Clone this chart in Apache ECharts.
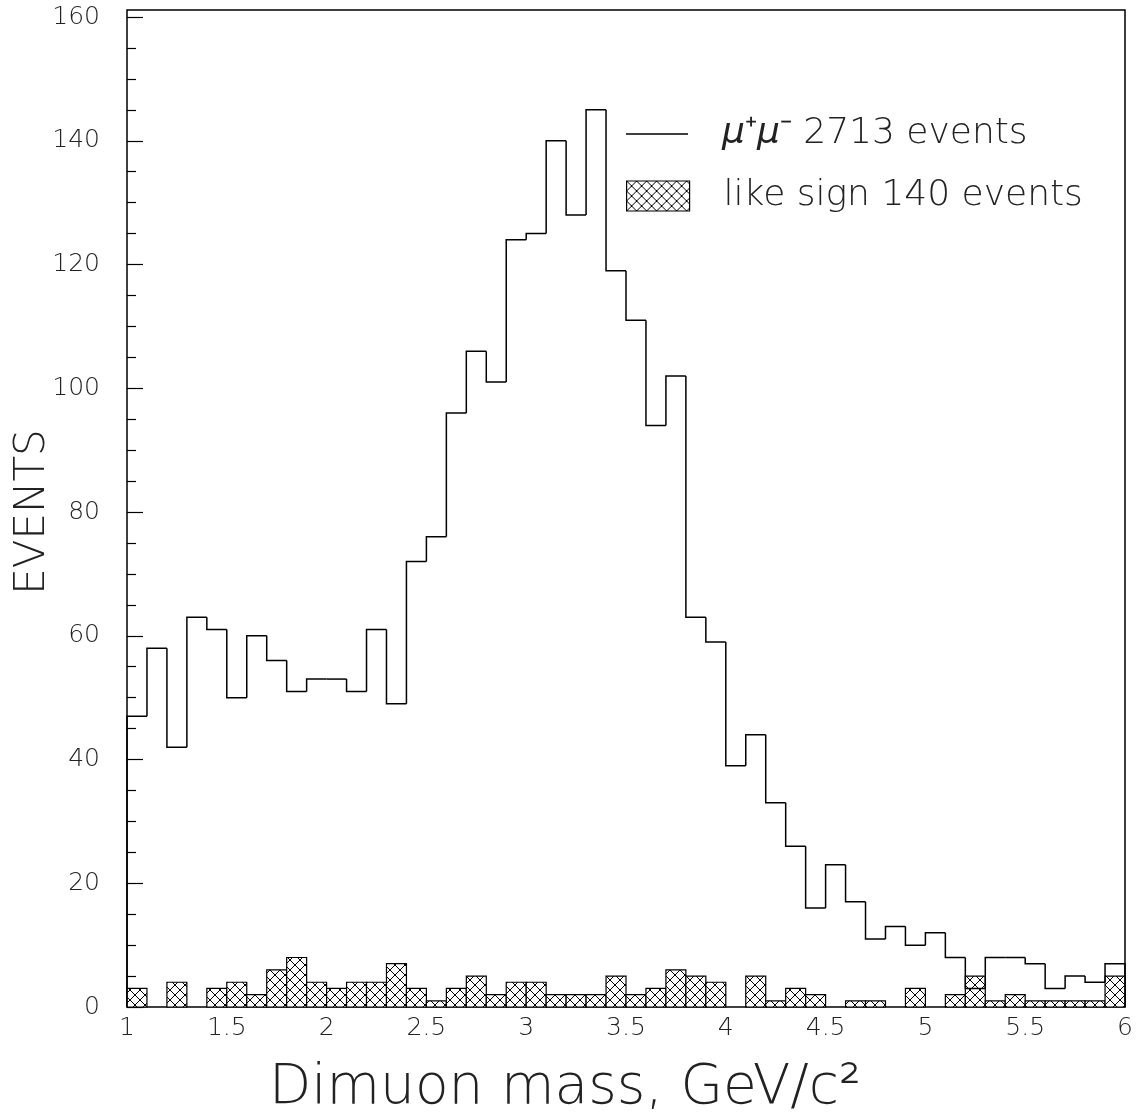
<!DOCTYPE html>
<html><head><meta charset="utf-8">
<script src="https://cdn.jsdelivr.net/npm/echarts@6/dist/echarts.min.js"></script>
<style>html,body{margin:0;padding:0;background:#fff}#c{width:1148px;height:1118px}</style>
</head><body><div id="c"></div>
<script>
// ---- data ----
const binStart = [1.0,1.1,1.2,1.3,1.4,1.5,1.6,1.7,1.8,1.9,
                  2.0,2.1,2.2,2.3,2.4,2.5,2.6,2.7,2.8,2.9,
                  3.0,3.1,3.2,3.3,3.4,3.5,3.6,3.7,3.8,3.9,
                  4.0,4.1,4.2,4.3,4.4,4.5,4.6,4.7,4.8,4.9,
                  5.0,5.1,5.2,5.3,5.4,5.5,5.6,5.7,5.8,5.9];
const binWidth = 0.1;
const muPlusMinus = [47,58,42,63,61,50,60,56,51,53,
                     53,51,61,49,72,76,96,106,101,124,
                     125,140,128,145,119,111,94,102,63,59,
                     39,44,33,26,16,23,17,11,13,10,
                     12,8,3,8,8,7,3,5,4,7];
const likeSign = [3,0,4,0,3,4,2,6,8,4,
                  3,4,4,7,3,1,3,5,2,4,
                  4,2,2,2,5,2,3,6,5,4,
                  0,5,1,3,2,0,1,1,0,3,
                  0,2,5,1,2,1,1,1,1,5];
const mainName = 'μ⁺μ⁻ 2713 events';
const likeName = 'like sign 140 events';
const xTitle = 'Dimuon mass, GeV/c²';
const yTitle = 'EVENTS';

// ---- hatch pattern ----
const pc = document.createElement('canvas');
pc.width = 10; pc.height = 10;
const g = pc.getContext('2d');
g.fillStyle = '#fff'; g.fillRect(0,0,10,10);
g.strokeStyle = '#000'; g.lineWidth = 1;
g.beginPath();
g.moveTo(-2,-2); g.lineTo(12,12);
g.moveTo(12,-2); g.lineTo(-2,12);
g.stroke();
const hatch = {image: pc, repeat: 'repeat'};

const FONT = '"DejaVu Sans"';
const FW = 200;
const mainData = binStart.map((x,i)=>[x, x+binWidth, muPlusMinus[i], i>0?muPlusMinus[i-1]:0, i===binStart.length-1?1:0]);
const likeData = binStart.map((x,i)=>[x, x+binWidth, likeSign[i]]).filter(d=>d[2]>0);

const legendText = {fontFamily:FONT,fontWeight:FW,fontSize:36,color:'#222',lineHeight:40,
                    rich:{sp:{width:29},i:{fontFamily:FONT,fontWeight:FW,fontSize:36,fontStyle:'italic',color:'#222'}}};

const chart = echarts.init(document.getElementById('c'));
chart.setOption({
  backgroundColor:'#fff',
  animation:false,
  grid:[
    {left:127,right:23,top:10,bottom:111,show:true,borderColor:'#000',borderWidth:1.5,backgroundColor:'transparent',outerBoundsMode:'none',containLabel:false},
    {left:127,right:23,top:17,bottom:111,outerBoundsMode:'none',containLabel:false}
  ],
  xAxis:[
    {gridIndex:0,type:'value',min:0,max:1,show:false},
    {gridIndex:1,type:'value',min:1,max:6,interval:0.5,
     axisLine:{show:false},
     axisTick:{show:false},splitLine:{show:false},
     axisLabel:{margin:9,fontFamily:FONT,fontWeight:FW,fontSize:25,color:'#222',formatter:v=>String(v)},
     name:xTitle,nameLocation:'middle',nameGap:54,
     nameTextStyle:{fontFamily:FONT,fontWeight:FW,fontSize:55,color:'#222',padding:[0,122,0,0]}}
  ],
  yAxis:[
    {gridIndex:0,type:'value',min:0,max:1,show:false},
    {gridIndex:1,type:'value',min:0,max:160,interval:20,
     axisLine:{show:false},
     axisTick:{show:true,inside:true,length:16,lineStyle:{color:'#000',width:1.2}},
     minorTick:{show:true,splitNumber:4,length:9,lineStyle:{color:'#000',width:1.2}},
     splitLine:{show:false},minorSplitLine:{show:false},
     axisLabel:{margin:27,fontFamily:FONT,fontWeight:FW,fontSize:25,color:'#222'},
     name:yTitle,nameLocation:'middle',nameGap:73,nameRotate:90,nameMoveOverlap:false,
     nameTextStyle:{fontFamily:FONT,fontWeight:FW,fontSize:42,color:'#222'}}
  ],
  legend:[
    {left:626,top:114,orient:'vertical',padding:0,selectedMode:false,
     itemWidth:62,itemHeight:1.5,
     data:[{name:mainName,icon:'rect',itemStyle:{color:'#000',borderWidth:0}}],
     formatter:n=>'{sp| }{i|μ}⁺{i|μ}⁻'+n.slice(4),
     textStyle:legendText},
    {left:626,top:176,orient:'vertical',padding:0,selectedMode:false,
     itemWidth:63,itemHeight:30,
     data:[{name:likeName,icon:'rect',itemStyle:{color:hatch,borderColor:'#000',borderWidth:1.2}}],
     formatter:n=>'{sp| }'+n,
     textStyle:legendText}
  ],
  series:[
    {name:likeName,type:'custom',xAxisIndex:1,yAxisIndex:1,data:likeData,
     encode:{x:[0,1],y:2},itemStyle:{color:hatch},
     renderItem:(params,api)=>{
       const p0 = api.coord([api.value(0),0]);
       const p1 = api.coord([api.value(1),api.value(2)]);
       return {type:'rect',shape:{x:p0[0],y:p1[1],width:p1[0]-p0[0],height:p0[1]-p1[1]},
               style:{fill:hatch,stroke:'#000',lineWidth:1.2}};
     }},
    {name:mainName,type:'custom',xAxisIndex:1,yAxisIndex:1,data:mainData,z:3,
     encode:{x:[0,1],y:2},itemStyle:{color:'#000'},
     renderItem:(params,api)=>{
       const x0=api.value(0),x1=api.value(1),v=api.value(2),prev=api.value(3),last=api.value(4);
       const pts=[api.coord([x0,prev]),api.coord([x0,v]),api.coord([x1,v])];
       if(last) pts.push(api.coord([x1,0]));
       return {type:'polyline',shape:{points:pts},style:{stroke:'#000',lineWidth:1.5,fill:null}};
     }}
  ]
});
</script></body></html>
